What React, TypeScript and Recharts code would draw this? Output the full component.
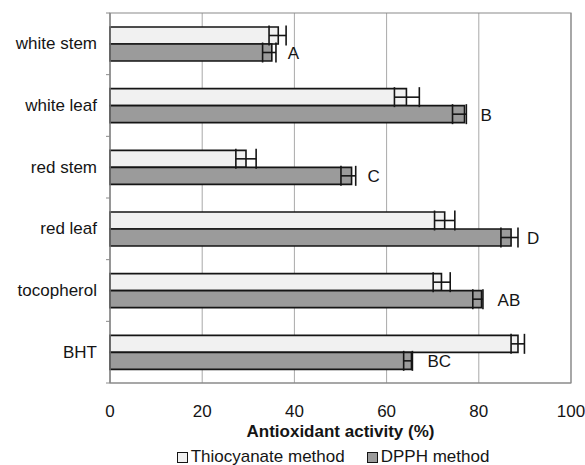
import React from 'react';
import {
  BarChart,
  Bar,
  XAxis,
  YAxis,
  CartesianGrid,
  ErrorBar,
  LabelList,
  Legend,
  Label,
  ReferenceArea,
} from 'recharts';

const categories = ['white stem', 'white leaf', 'red stem', 'red leaf', 'tocopherol', 'BHT'];
const thiocyanate = [36.5, 64.3, 29.5, 72.6, 71.9, 88.5];
const thiocyanateErr = [
  [2.0, 1.7],
  [2.6, 2.8],
  [2.2, 2.2],
  [2.2, 2.2],
  [1.8, 1.9],
  [1.5, 1.4],
];
const dpph = [35.1, 76.9, 52.4, 87.0, 80.6, 65.4];
const dpphErr = [
  [2.0, 0.9],
  [2.6, 0.4],
  [2.3, 0.9],
  [2.2, 1.5],
  [1.9, 0.3],
  [1.7, 0.2],
];
const letters = ['A', 'B', 'C', 'D', 'AB', 'BC'];
const xTicks = [0, 20, 40, 60, 80, 100];

const data = categories.map((name, i) => ({
  name,
  thio: thiocyanate[i],
  thioErr: thiocyanateErr[i],
  dpph: dpph[i],
  dpphErr: dpphErr[i],
  letter: letters[i],
}));

const FONT = '"Liberation Sans", Arial, sans-serif';
const W = 585;
const H = 465;
const MARGIN = { top: 13, right: 14, left: 0, bottom: 0 };
const X_AXIS_H = 82;
const Y_AXIS_W = 110;
const PLOT_H = H - MARGIN.top - X_AXIS_H;
const BAND = PLOT_H / categories.length;
const TEXT = '#151515';
const AXIS = '#8a8a8a';
const GRID = '#a9a9a9';
const THIO_FILL = '#f1f1f1';
const DPPH_FILL = '#9b9b9b';
const EDGE = '#151515';

const CatTick = (props: any) => {
  const { x, y, payload, index } = props;
  const ax = x + 13;
  return (
    <g>
      <text
        x={x}
        y={y}
        textAnchor="end"
        dominantBaseline="central"
        fontFamily={FONT}
        fontSize={17}
        fill={TEXT}
      >
        {payload.value}
      </text>
      <line x1={ax - 4} x2={ax} y1={y - BAND / 2} y2={y - BAND / 2} stroke={AXIS} strokeWidth={1} />
      {index === categories.length - 1 && (
        <line x1={ax - 4} x2={ax} y1={y + BAND / 2} y2={y + BAND / 2} stroke={AXIS} strokeWidth={1} />
      )}
    </g>
  );
};

const LetterLabel = (props: any) => {
  const { x, y, width, height, value } = props;
  return (
    <text
      x={x + width + 16}
      y={y + height / 2 + 1}
      textAnchor="start"
      dominantBaseline="central"
      fontFamily={FONT}
      fontSize={17}
      fill={TEXT}
    >
      {value}
    </text>
  );
};

const legendItems = [
  { label: 'Thiocyanate method', fill: THIO_FILL },
  { label: 'DPPH method', fill: DPPH_FILL },
];

const LegendContent = () => (
  <div
    style={{
      display: 'flex',
      justifyContent: 'center',
      alignItems: 'center',
      fontFamily: FONT,
      fontSize: 17,
      color: TEXT,
      height: 20,
      lineHeight: '20px',
      whiteSpace: 'nowrap',
    }}
  >
    {legendItems.map((it, i) => (
      <div key={it.label} style={{ display: 'flex', alignItems: 'center', marginLeft: i === 0 ? 0 : 22 }}>
        <span
          style={{
            display: 'inline-block',
            width: 9,
            height: 9,
            border: `1.5px solid ${EDGE}`,
            background: it.fill,
            marginRight: 3,
          }}
        />
        <span>{it.label}</span>
      </div>
    ))}
  </div>
);

export default function App() {
  return (
    <div style={{ position: 'absolute', left: 0, top: 0, width: W, height: H, background: '#fff' }}>
      <BarChart
        width={W}
        height={H}
        data={data}
        layout="vertical"
        margin={MARGIN}
        barGap={0}
        barSize={17}
      >
        <CartesianGrid horizontal={false} vertical={true} stroke={GRID} strokeWidth={1} />
        <ReferenceArea x1={0} x2={100} stroke={AXIS} strokeWidth={1.2} fill="none" fillOpacity={0} />
        <XAxis
          type="number"
          domain={[0, 100]}
          ticks={xTicks}
          interval={0}
          height={X_AXIS_H}
          axisLine={{ stroke: AXIS, strokeWidth: 1.2 }}
          tickLine={false}
          tickSize={0}
          tickMargin={22}
          tick={{ fontFamily: FONT, fontSize: 17, fill: TEXT }}
        >
          <Label
            value="Antioxidant activity (%)"
            position="insideTop"
            offset={42}
            style={{ fontFamily: FONT, fontSize: 17, fontWeight: 'bold', fill: TEXT }}
          />
        </XAxis>
        <YAxis
          type="category"
          dataKey="name"
          width={Y_AXIS_W}
          axisLine={{ stroke: AXIS, strokeWidth: 1.2 }}
          tickLine={false}
          tickSize={0}
          tickMargin={13}
          interval={0}
          tick={<CatTick />}
        />
        <Legend
          verticalAlign="middle"
          align="center"
          layout="horizontal"
          content={<LegendContent />}
          wrapperStyle={{ top: 447, left: 96, width: 474, height: 20 }}
        />
        <Bar dataKey="thio" fill={THIO_FILL} stroke={EDGE} strokeWidth={1.6} isAnimationActive={false}>
          <ErrorBar dataKey="thioErr" direction="x" width={10} stroke={EDGE} strokeWidth={1.6} />
        </Bar>
        <Bar dataKey="dpph" fill={DPPH_FILL} stroke={EDGE} strokeWidth={1.6} isAnimationActive={false}>
          <ErrorBar dataKey="dpphErr" direction="x" width={10} stroke={EDGE} strokeWidth={1.6} />
          <LabelList dataKey="letter" content={<LetterLabel />} />
        </Bar>
      </BarChart>
    </div>
  );
}
